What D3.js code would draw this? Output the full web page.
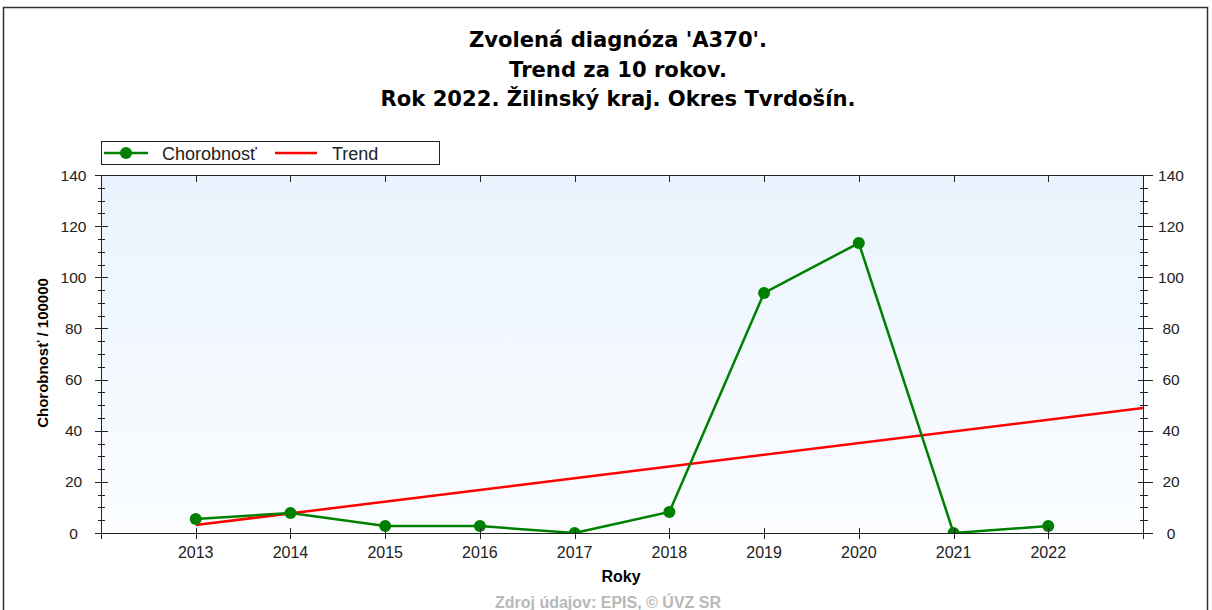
<!DOCTYPE html>
<html><head><meta charset="utf-8">
<script src="https://cdn.jsdelivr.net/npm/d3@7"></script>
<style>
html,body{margin:0;padding:0;background:#fff;}
svg{display:block;font-family:"Liberation Sans",Arial,sans-serif;}
</style></head>
<body>
<svg id="c" width="1212" height="610"></svg>
<script>
const titleLines = ["Zvolená diagnóza 'A370'.", "Trend za 10 rokov.", "Rok 2022. Žilinský kraj. Okres Tvrdošín."];
const years = [2013, 2014, 2015, 2016, 2017, 2018, 2019, 2020, 2021, 2022];
const morbidity = [5.5, 7.8, 2.7, 2.7, 0, 8.2, 93.9, 113.4, 0, 2.7];
const trendYears = [2013, 2023];
const trendValues = [3.1, 48.9];
const yTicks = [0, 20, 40, 60, 80, 100, 120, 140];
const seriesNames = ["Chorobnosť", "Trend"];
const yLabel = "Chorobnosť / 100000";
const xLabel = "Roky";
const source = "Zdroj údajov: EPIS, © ÚVZ SR";

const svg = d3.select("#c");
const L = 101, R = 1143, T = 175, B = 533;
const x = d3.scaleLinear().domain([2012, 2023]).range([L, R]);
const y = d3.scaleLinear().domain([0, 140]).range([B, T]);

// outer frame
svg.append("rect").attr("x", 3.5).attr("y", 7.5).attr("width", 1204).attr("height", 620)
  .attr("fill", "none").attr("stroke", "#333").attr("stroke-width", 1.5);

// titles
const titles = svg.selectAll("text.title").data(titleLines).join("text")
  .attr("class", "title")
  .attr("x", 618).attr("y", (d, i) => 47 + i * 29.5)
  .attr("text-anchor", "middle").attr("font-size", 20).attr("font-weight", "bold")
  .style("font-family", "'DejaVu Sans', sans-serif")
  .attr("fill", "#000").text(d => d);
const w3 = titles.nodes()[2].getComputedTextLength();
titles.attr("font-size", 20 * 475 / w3);

// gradient background
const defs = svg.append("defs");
const g = defs.append("linearGradient").attr("id", "bg").attr("x1", 0).attr("x2", 0).attr("y1", 0).attr("y2", 1);
g.append("stop").attr("offset", "0%").attr("stop-color", "#e9f3fd");
g.append("stop").attr("offset", "100%").attr("stop-color", "#fbfdff");
defs.append("clipPath").attr("id", "clip").append("rect")
  .attr("x", L).attr("y", T).attr("width", R - L).attr("height", B - T);

svg.append("rect").attr("x", L).attr("y", T).attr("width", R - L).attr("height", B - T)
  .attr("fill", "url(#bg)");

// data
const plot = svg.append("g").attr("clip-path", "url(#clip)");
const line = d3.line().x(d => x(d[0])).y(d => y(d[1]));
plot.append("path").datum(d3.zip(trendYears, trendValues)).attr("d", line)
  .attr("fill", "none").attr("stroke", "#ff0000").attr("stroke-width", 2.5);
const pts = d3.zip(years, morbidity);
plot.append("path").datum(pts).attr("d", line)
  .attr("fill", "none").attr("stroke", "#008000").attr("stroke-width", 2.5);
plot.selectAll("circle").data(pts).join("circle")
  .attr("cx", d => x(d[0])).attr("cy", d => y(d[1])).attr("r", 6).attr("fill", "#008000");

// axes
const axisColor = "#222";
const minorTicks = d3.range(0, 141, 5);
const ax = svg.append("g").attr("stroke", axisColor).attr("stroke-width", 1);
ax.append("rect").attr("x", L + 0.5).attr("y", T + 0.5).attr("width", R - L).attr("height", B - T)
  .attr("fill", "none").attr("stroke", axisColor);
ax.selectAll("line.lmin").data(minorTicks).join("line")
  .attr("x1", L - 3).attr("x2", L + 4).attr("y1", d => Math.round(y(d)) + 0.5).attr("y2", d => Math.round(y(d)) + 0.5);
ax.selectAll("line.lmaj").data(yTicks).join("line")
  .attr("x1", L - 6).attr("x2", L + 7).attr("y1", d => Math.round(y(d)) + 0.5).attr("y2", d => Math.round(y(d)) + 0.5);
ax.selectAll("line.rmin").data(minorTicks).join("line")
  .attr("x1", R - 3).attr("x2", R + 5).attr("y1", d => Math.round(y(d)) + 0.5).attr("y2", d => Math.round(y(d)) + 0.5);
ax.selectAll("line.rmaj").data(yTicks).join("line")
  .attr("x1", R - 5).attr("x2", R + 10).attr("y1", d => Math.round(y(d)) + 0.5).attr("y2", d => Math.round(y(d)) + 0.5);
const xTickYears = d3.range(2012, 2024);
ax.selectAll("line.xb").data(xTickYears).join("line")
  .attr("x1", d => Math.round(x(d)) + 0.5).attr("x2", d => Math.round(x(d)) + 0.5)
  .attr("y1", B - 5).attr("y2", B + 6);
ax.selectAll("line.xt").data(years).join("line")
  .attr("x1", d => Math.round(x(d)) + 0.5).attr("x2", d => Math.round(x(d)) + 0.5)
  .attr("y1", T).attr("y2", T + 7);

// tick labels
const tl = svg.append("g").attr("fill", "#222");
tl.selectAll("text.l").data(yTicks).join("text")
  .attr("font-size", 15.5)
  .attr("x", 73.5).attr("y", d => y(d) + 5.5).attr("text-anchor", "middle").text(d => d);
tl.selectAll("text.r").data(yTicks).join("text")
  .attr("font-size", 15.5)
  .attr("x", 1171).attr("y", d => y(d) + 5.5).attr("text-anchor", "middle").text(d => d);
tl.selectAll("text.x").data(years).join("text")
  .attr("font-size", 16)
  .attr("x", d => x(d)).attr("y", 558).attr("text-anchor", "middle").text(d => d);

// axis titles
svg.append("text").attr("transform", "translate(48,353) rotate(-90)")
  .attr("text-anchor", "middle").attr("font-size", 15).attr("font-weight", "bold").text(yLabel);
svg.append("text").attr("x", 621).attr("y", 582).attr("text-anchor", "middle")
  .attr("font-size", 16).attr("font-weight", "bold").text(xLabel);
svg.append("text").attr("x", 608).attr("y", 608).attr("text-anchor", "middle")
  .attr("font-size", 16).attr("font-weight", "bold").attr("fill", "#b8b8b8").text(source);

// legend
const lg = svg.append("g");
lg.append("rect").attr("x", 101.5).attr("y", 141.5).attr("width", 338).attr("height", 23)
  .attr("fill", "#fff").attr("stroke", "#222");
lg.append("line").attr("x1", 104).attr("x2", 148).attr("y1", 153).attr("y2", 153)
  .attr("stroke", "#008000").attr("stroke-width", 2.5);
lg.append("circle").attr("cx", 126).attr("cy", 153).attr("r", 6).attr("fill", "#008000");
lg.append("text").attr("x", 162).attr("y", 159.5).attr("font-size", 18).attr("fill", "#222").text(seriesNames[0]);
lg.append("line").attr("x1", 275).attr("x2", 317).attr("y1", 153).attr("y2", 153)
  .attr("stroke", "#ff0000").attr("stroke-width", 2.5);
lg.append("text").attr("x", 232 + 100).attr("y", 159.5).attr("font-size", 18).attr("fill", "#222").text(seriesNames[1]);
</script>
</body></html>
